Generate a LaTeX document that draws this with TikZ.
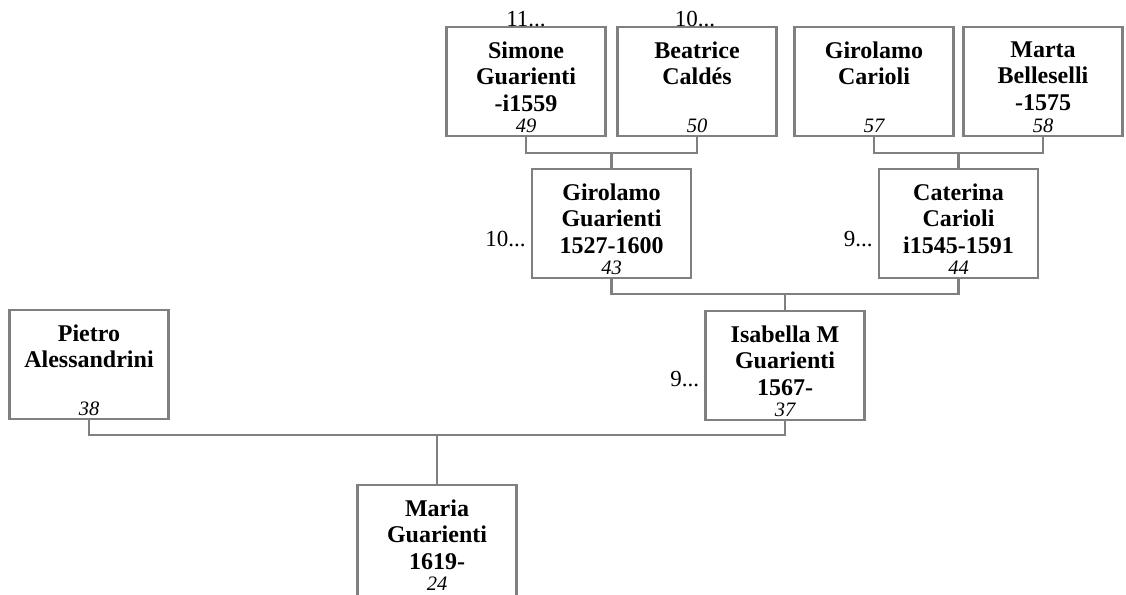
\documentclass[tikz,border=0pt]{standalone}
\usepackage{fontspec}
\setmainfont{Liberation Serif}
\usetikzlibrary{calc}
\definecolor{boxgray}{HTML}{808080}
\tikzset{
  pbox/.style={draw=boxgray, line width=2.5pt, fill=white, rectangle, minimum width=159pt, minimum height=109pt, inner sep=0pt},
  ptext/.style={align=center, inner sep=0pt, font=\fontsize{24}{26.5}\selectfont\bfseries},
  pnum/.style={inner sep=0pt, font=\fontsize{20.5}{22}\selectfont\itshape},
  lbl/.style={inner sep=0pt, font=\fontsize{23}{24}\selectfont},
  conn/.style={draw=boxgray, line width=2.5pt}
}
\newcommand\person[5]{%
  \node[pbox] (#1) at (#2,{#3+54.5}) {};
  \node[ptext, anchor=north] (#1-t) at (#2,{#3+14.5}) {#4};
  \node[pnum, anchor=base] (#1-n) at (#2,{#3+105}) {#5};
}
\begin{document}
\begin{tikzpicture}[x=1pt,y=-1pt]
\clip (0,0) rectangle (1126,594);
\fill[white] (0,0) rectangle (1126,594);
\coordinate (j1) at (611.5,153);
\coordinate (j2) at (958.5,153);
\coordinate (j3) at (785,294);
\coordinate (j4) at (437,435);
% generation 1
\person{simone}{526}{27}{Simone\\Guarienti\\-i1559}{49}
\person{beatrice}{697}{27}{Beatrice\\Caldés}{50}
\person{girolamoc}{874}{27}{Girolamo\\Carioli}{57}
\person{marta}{1043}{27}{Marta\\Belleselli\\-1575}{58}
% generation 2
\person{girolamog}{611.5}{169}{Girolamo\\Guarienti\\1527-1600}{43}
\person{caterina}{958.5}{169}{Caterina\\Carioli\\i1545-1591}{44}
% generation 3
\person{pietro}{89}{310}{Pietro\\Alessandrini}{38}
\person{isabella}{785}{311}{Isabella M\\Guarienti\\1567-}{37}
% generation 4
\node[pbox, minimum height=115pt] (maria) at (437,542.5) {};
\node[ptext, anchor=north] (maria-t) at (437,499.5) {Maria\\Guarienti\\1619-};
\node[pnum, anchor=base] (maria-n) at (437,590) {24};
% connectors
\draw[conn] (simone.south) |- (j1) -| (beatrice.south);
\draw[conn] (j1) -- (girolamog.north);
\draw[conn] (girolamoc.south) |- (j2) -| (marta.south);
\draw[conn] (j2) -- (caterina.north);
\draw[conn] (girolamog.south) |- (j3) -| (caterina.south);
\draw[conn] (j3) -- (isabella.north);
\draw[conn] (pietro.south) |- (j4) -| (isabella.south);
\draw[conn] (j4) -- (maria.north);
% continuation labels
\node[lbl, anchor=base] (l11) at (526,27) {11...};
\node[lbl, anchor=base] (l10a) at (695,27) {10...};
\node[lbl, anchor=east] (l10b) at ($(girolamog.west)+(-5,16)$) {10...};
\node[lbl, anchor=east] (l9a) at ($(caterina.west)+(-5,16)$) {9...};
\node[lbl, anchor=east] (l9b) at ($(isabella.west)+(-5,14)$) {9...};
\end{tikzpicture}
\end{document}
